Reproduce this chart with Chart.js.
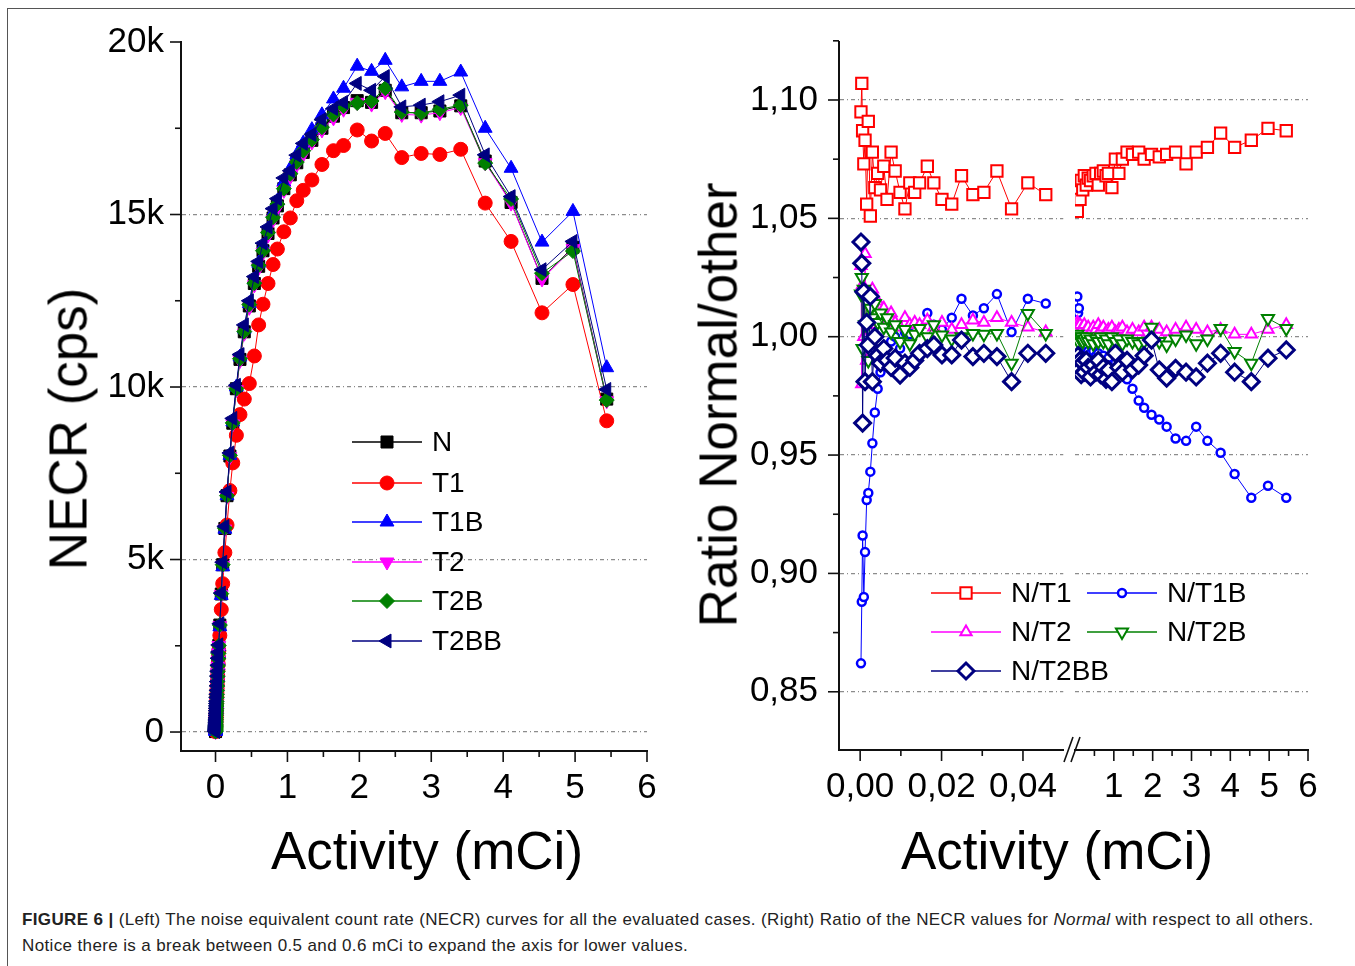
<!DOCTYPE html>
<html>
<head>
<meta charset="utf-8">
<title>Figure 6 - NECR curves</title>
<script src="https://cdn.jsdelivr.net/npm/chart.js@4.4.1/dist/chart.umd.min.js"></script>
<style>
  html, body { margin: 0; padding: 0; background: #fff; }
  body { width: 1355px; height: 966px; position: relative; overflow: hidden;
         font-family: "Liberation Sans", Arial, sans-serif; }
  .frame { position: absolute; left: 7px; top: 8px; width: 1400px; height: 1000px;
           border-left: 1.5px solid #555; border-top: 1.5px solid #555; }
  canvas { position: absolute; top: 0; }
  .axtitle { position: absolute; font-size: 53px; color: #000; white-space: nowrap;
             line-height: 1; transform: translate(-50%, -50%); }
  .axtitle.rot { transform: translate(-50%, -50%) rotate(-90deg); }
  .caption { position: absolute; left: 22px; top: 907px; font-size: 17px; color: #222;
             line-height: 26px; white-space: nowrap; letter-spacing: 0.37px; }
</style>
</head>
<body>
<div class="frame"></div>

<canvas id="necrChart" width="680" height="890" style="left:0px"></canvas>
<canvas id="ratioLow" width="395" height="890" style="left:680px"></canvas>
<canvas id="ratioHigh" width="455" height="890" style="left:900px"></canvas>

<div class="axtitle rot" style="left:68px; top:429px;">NECR (cps)</div>
<div class="axtitle" style="left:427px; top:850px;">Activity (mCi)</div>
<div class="axtitle rot" style="left:718px; top:405px;">Ratio Normal/other</div>
<div class="axtitle" style="left:1057px; top:850px;">Activity (mCi)</div>

<div class="caption"><b>FIGURE 6 |</b> (Left) The noise equivalent count rate (NECR) curves for all the evaluated cases. (Right) Ratio of the NECR values for <i>Normal</i> with respect to all others.<br>Notice there is a break between 0.5 and 0.6 mCi to expand the axis for lower values.</div>

<script>
//////// DATA ////////

// activity (mCi): low range shown left of the axis break, high range right of it
var activityLow = [0.0002, 0.0004, 0.0006, 0.0009, 0.0012, 0.0016, 0.0020, 0.0025, 0.0030, 0.0036,
                   0.0043, 0.0050, 0.0058, 0.0066, 0.0076, 0.0086, 0.0098, 0.0110, 0.0122, 0.0134,
                   0.0146, 0.0165, 0.0181, 0.0201, 0.0225, 0.0249, 0.0277, 0.0304, 0.0336, 0.0372,
                   0.0412, 0.0456];
var activityHigh = [0.06, 0.08, 0.10, 0.13, 0.16, 0.20, 0.24, 0.29, 0.34, 0.40,
                    0.47, 0.54, 0.60, 0.66, 0.73, 0.80, 0.86, 0.95, 1.04, 1.13,
                    1.22, 1.34, 1.48, 1.64, 1.78, 1.97, 2.17, 2.36, 2.59, 2.86,
                    3.12, 3.41, 3.75, 4.11, 4.54, 4.97, 5.44];

// NECR (cps), one value per activity (low then high)
var necrN = [13, 26, 38, 57, 77, 100, 130, 160, 190, 230, 270, 320, 370, 420, 480, 540, 610, 680, 750, 820,
             890, 1000, 1090, 1200, 1330, 1460, 1610, 1750, 1920, 2100, 2300, 2510,
             3100, 4000, 4850, 5900, 6850, 8000, 8950, 9950, 10800, 11600, 12350, 13000, 13500, 13950,
             14450, 14900, 15250, 15750, 16150, 16500, 16800, 17150, 17500, 17850, 18100, 18300, 18250,
             18600, 17950, 17950, 18000, 18150, 16550, 15350, 13150, 14050, 9650];
var necrT1 = [12, 24, 36, 53, 72, 94, 122, 150, 178, 216, 254, 300, 347, 394, 450, 507, 573, 638, 704, 770,
              836, 939, 1023, 1127, 1249, 1371, 1512, 1643, 1803, 1972, 2160, 2357,
              2800, 3550, 4300, 5200, 6000, 7000, 7800, 8600, 9200, 9650, 10100, 10900, 11800, 12400,
              13000, 13550, 14000, 14500, 14900, 15400, 15700, 16000, 16450, 16850, 17000, 17450, 17130,
              17350, 16650, 16770, 16740, 16890, 15330, 14220, 12150, 12970, 9020];
var necrT1B = [15, 29, 41, 64, 85, 107, 139, 170, 199, 238, 276, 325, 374, 422, 481, 540, 613, 679, 749, 817,
               881, 989, 1085, 1196, 1309, 1447, 1591, 1719, 1916, 2067, 2268, 2473,
               3050, 3960, 4790, 5880, 6850, 8020, 8990, 10000, 10870, 11680, 12420, 13100, 13590, 14080,
               14570, 15050, 15390, 15940, 16330, 16730, 17070, 17460, 17890, 18350, 18660, 19300, 19150,
               19470, 18700, 18860, 18860, 19130, 17500, 16340, 14200, 15090, 10560];
var necrT2 = [13, 27, 37, 57, 74, 101, 128, 159, 186, 228, 266, 317, 366, 417, 475, 537, 608, 675, 746, 815,
              886, 993, 1086, 1193, 1326, 1453, 1599, 1740, 1905, 2088, 2291, 2505,
              3080, 3980, 4830, 5880, 6830, 7980, 8930, 9920, 10770, 11560, 12310, 12960, 13460, 13900,
              14400, 14850, 15200, 15700, 16100, 16450, 16750, 17100, 17450, 17800, 18050, 18250, 18200,
              18560, 17900, 17880, 17950, 18100, 16500, 15330, 13130, 14010, 9600];
var necrT2B = [13, 25, 38, 56, 77, 99, 131, 158, 189, 227, 268, 317, 369, 417, 479, 537, 611, 678, 752, 819,
               887, 1000, 1085, 1199, 1331, 1460, 1608, 1748, 1917, 2124, 2278, 2506,
               3100, 4010, 4850, 5910, 6850, 8020, 8960, 9950, 10820, 11610, 12390, 13010, 13530, 13950,
               14480, 14920, 15300, 15750, 16180, 16520, 16850, 17170, 17530, 17900, 18140, 18230, 18290,
               18660, 17970, 17940, 18050, 18170, 16490, 15450, 13300, 13940, 9620];
var necrT2BB = [12, 25, 39, 56, 78, 99, 130, 157, 194, 230, 272, 324, 372, 424, 486, 545, 620, 688, 760, 828,
                896, 1005, 1094, 1209, 1340, 1462, 1624, 1762, 1936, 2141, 2316, 2528,
                3140, 4030, 4920, 5960, 6960, 8090, 9090, 10050, 10940, 11800, 12500, 13200, 13640, 14170,
                14640, 15170, 15460, 16060, 16270, 16720, 17060, 17320, 17750, 18070, 18250, 18800, 18600,
                19000, 18120, 18170, 18270, 18460, 16730, 15520, 13400, 14220, 9930];

// ratio of NECR for Normal over the other cases (low then high)
var ratioT1 = [1.095, 1.107, 1.087, 1.073, 1.083, 1.056, 1.091, 1.051, 1.078, 1.063, 1.069, 1.062, 1.072, 1.058,
               1.078, 1.070, 1.061, 1.054, 1.065, 1.061, 1.065, 1.072, 1.065, 1.058, 1.056, 1.068, 1.060, 1.061,
               1.070, 1.054, 1.065, 1.060,
               1.053, 1.059, 1.062, 1.058, 1.066, 1.062, 1.068, 1.064, 1.067, 1.066, 1.068, 1.069, 1.064,
               1.069, 1.070, 1.068, 1.069, 1.063, 1.075, 1.069, 1.075, 1.078, 1.077, 1.078, 1.075, 1.077,
               1.076, 1.077, 1.078, 1.073, 1.078, 1.080, 1.086, 1.080, 1.083, 1.088, 1.087];
var ratioT1B = [0.862, 0.888, 0.916, 0.890, 0.909, 0.931, 0.934, 0.943, 0.955, 0.968, 0.978, 0.985, 0.990, 0.996,
                0.998, 1.000, 0.995, 1.002, 1.001, 1.004, 1.004, 1.010, 1.005, 1.003, 1.008, 1.016, 1.009, 1.012,
                1.018, 1.002, 1.016, 1.014,
                1.017, 1.010, 1.012, 1.004, 1.000, 0.998, 0.996, 0.995, 0.994, 0.993, 0.994, 0.992, 0.993,
                0.991, 0.992, 0.990, 0.991, 0.988, 0.989, 0.986, 0.984, 0.982, 0.978, 0.973, 0.970, 0.967,
                0.965, 0.962, 0.957, 0.956, 0.962, 0.956, 0.951, 0.942, 0.932, 0.937, 0.932];
var ratioT2 = [1.030, 0.980, 1.022, 1.000, 1.035, 0.990, 1.015, 1.005, 1.020, 1.010, 1.015, 1.008, 1.012, 1.006,
               1.010, 1.006, 1.004, 1.008, 1.005, 1.006, 1.005, 1.007, 1.004, 1.006, 1.003, 1.005, 1.007, 1.006,
               1.008, 1.006, 1.004, 1.002,
               1.006, 1.005, 1.004, 1.005, 1.003, 1.004, 1.005, 1.003, 1.004, 1.002, 1.004, 1.003, 1.005,
               1.003, 1.004, 1.002, 1.003, 1.004, 1.002, 1.003, 1.004, 1.002, 1.003, 1.002, 1.004, 1.004,
               1.003, 1.002, 1.003, 1.004, 1.003, 1.002, 1.003, 1.001, 1.001, 1.003, 1.005];
var ratioT2B = [1.018, 1.025, 0.995, 1.020, 1.005, 1.015, 0.990, 1.012, 1.008, 1.014, 1.006, 1.010, 1.004, 1.008,
                1.002, 1.005, 0.998, 1.003, 0.997, 1.001, 1.0035, 1.000, 1.005, 1.0007, 0.999, 1.000, 1.0014,
                1.001, 1.0014, 0.9888, 1.0098, 1.0014,
                1.001, 0.998, 1.000, 0.999, 1.000, 0.998, 0.999, 1.000, 0.998, 0.999, 0.997, 0.999, 0.998,
                1.000, 0.998, 0.999, 0.997, 1.000, 0.998, 0.999, 0.997, 0.999, 0.998, 0.997, 0.998, 1.004,
                0.998, 0.9965, 0.999, 1.0007, 0.997, 0.999, 1.0035, 0.9937, 0.9888, 1.0077, 1.0035];
var ratioT2BB = [1.040, 1.031, 0.9635, 1.019, 0.981, 1.006, 0.9965, 1.017, 0.981, 1.000, 0.992, 0.9888, 0.995,
                 0.990, 0.987, 0.991, 0.9838, 0.9888, 0.987, 0.990, 0.993, 0.995, 0.9965, 0.9923, 0.9923,
                 0.9986, 0.9916, 0.993, 0.9916, 0.981, 0.993, 0.993,
                 0.988, 0.992, 0.986, 0.990, 0.984, 0.989, 0.985, 0.990, 0.987, 0.983, 0.988, 0.985, 0.990,
                 0.984, 0.987, 0.982, 0.986, 0.981, 0.993, 0.987, 0.985, 0.990, 0.986, 0.988, 0.992, 0.9986,
                 0.986, 0.9825, 0.9866, 0.985, 0.983, 0.9888, 0.993, 0.985, 0.981, 0.9909, 0.9944];

//////// STYLES ////////

var FONT = "'Liberation Sans', Arial, sans-serif";
var tickFont = {family: FONT, size: 35};
var legendFont = "28px " + FONT;
var axisColor = '#111111';
var gridColor = '#8c8c8c';
var gridDash = [4, 3, 1, 3];

var necrDefs = [
  {label: 'N',    values: necrN,    color: '#000000', style: 'rect',     rot: 0,   radius: 8.5, order: 6},
  {label: 'T1',   values: necrT1,   color: '#ff0000', style: 'circle',   rot: 0,   radius: 7,   order: 5},
  {label: 'T1B',  values: necrT1B,  color: '#0000ff', style: 'triangle', rot: 0,   radius: 8,   order: 4},
  {label: 'T2',   values: necrT2,   color: '#ff00ff', style: 'triangle', rot: 180, radius: 8,   order: 3},
  {label: 'T2B',  values: necrT2B,  color: '#008000', style: 'rectRot',  rot: 0,   radius: 7.5, order: 2},
  {label: 'T2BB', values: necrT2BB, color: '#000080', style: 'triangle', rot: 270, radius: 8,   order: 1}
];

var ratioDefs = [
  {label: 'N/T1',   values: ratioT1,   color: '#ff0000', style: 'rect',     rot: 0,   radius: 8,   bw: 2,   order: 5},
  {label: 'N/T1B',  values: ratioT1B,  color: '#0000ff', style: 'circle',   rot: 0,   radius: 4,   bw: 2.5, order: 4},
  {label: 'N/T2',   values: ratioT2,   color: '#ff00ff', style: 'triangle', rot: 0,   radius: 6.5, bw: 2,   order: 3},
  {label: 'N/T2B',  values: ratioT2B,  color: '#008000', style: 'triangle', rot: 180, radius: 7,   bw: 2,   order: 2},
  {label: 'N/T2BB', values: ratioT2BB, color: '#000080', style: 'rectRot',  rot: 0,   radius: 8,   bw: 3,   order: 1}
];

var activity = activityLow.concat(activityHigh);
var nLow = activityLow.length;

function buildSets(defs, hollow, from, to) {
  return defs.map(function (d) {
    var pts = [];
    for (var i = from; i < to; i++) {
      pts.push({x: activity[i], y: d.values[i]});
    }
    return {
      label: d.label,
      data: pts,
      borderColor: d.color,
      backgroundColor: d.color,
      borderWidth: 1,
      pointStyle: d.style,
      pointRotation: d.rot,
      pointRadius: d.radius,
      pointHoverRadius: d.radius,
      pointBorderColor: d.color,
      pointBorderWidth: hollow ? d.bw : 1,
      pointBackgroundColor: hollow ? '#ffffff' : d.color,
      order: d.order,
      tension: 0,
      fill: false
    };
  });
}

//////// PLUGINS ////////

// tick marks: long ones at labelled ticks, short ones in between
var tickMarks = {
  id: 'tickMarks',
  afterDraw: function (chart) {
    var ctx = chart.ctx, a = chart.chartArea;
    ctx.save();
    ctx.strokeStyle = axisColor;
    ctx.lineWidth = 1.6;
    Object.keys(chart.scales).forEach(function (id) {
      var sc = chart.scales[id];
      if (sc.options.ticks.display === false) return;
      sc.ticks.forEach(function (t) {
        var len = t.label ? 11 : 6;
        var p = sc.getPixelForValue(t.value);
        ctx.beginPath();
        if (sc.isHorizontal()) {
          ctx.moveTo(p, a.bottom);
          ctx.lineTo(p, a.bottom + len);
        } else {
          ctx.moveTo(a.left, p);
          ctx.lineTo(a.left - len, p);
        }
        ctx.stroke();
      });
    });
    ctx.restore();
  }
};

// legend drawn at fixed spots, using each dataset's own style
function makeLegend(items, offsetX) {
  return {
    id: 'spotLegend',
    afterDraw: function (chart) {
      var ctx = chart.ctx;
      items.forEach(function (it) {
        var ds = chart.data.datasets[it.ds];
        var x0 = it.x - offsetX, y = it.y;
        ctx.save();
        ctx.strokeStyle = ds.borderColor;
        ctx.lineWidth = 1.5;
        ctx.beginPath();
        ctx.moveTo(x0, y);
        ctx.lineTo(x0 + 70, y);
        ctx.stroke();
        ctx.fillStyle = ds.pointBackgroundColor;
        ctx.strokeStyle = ds.pointBorderColor;
        ctx.lineWidth = ds.pointBorderWidth;
        if (Chart.helpers && Chart.helpers.drawPoint) {
          Chart.helpers.drawPoint(ctx, {
            pointStyle: ds.pointStyle, rotation: ds.pointRotation,
            radius: ds.pointRadius, borderWidth: ds.pointBorderWidth
          }, x0 + 35, y);
        }
        ctx.fillStyle = '#000';
        ctx.font = legendFont;
        ctx.textBaseline = 'middle';
        ctx.textAlign = 'left';
        ctx.fillText(ds.label, x0 + 80, y + 1);
        ctx.restore();
      });
    }
  };
}

// the "//" axis break marks
var breakMarks = {
  id: 'breakMarks',
  afterDraw: function (chart) {
    var ctx = chart.ctx, off = 900;
    ctx.save();
    ctx.strokeStyle = axisColor;
    ctx.lineWidth = 1.6;
    ctx.beginPath();
    ctx.moveTo(1064 - off, 762); ctx.lineTo(1073 - off, 737);
    ctx.moveTo(1071 - off, 762); ctx.lineTo(1080 - off, 737);
    ctx.stroke();
    ctx.restore();
  }
};

//////// SCALES ////////

// ticks placed at from, from+step, ... to (Chart.js would otherwise stretch the step)
function fixedTicks(from, to, step) {
  return function (s) {
    var n = Math.round((to - from) / step), t = [];
    for (var i = 0; i <= n; i++) t.push({value: Math.round((from + i * step) * 1e6) / 1e6});
    s.ticks = t;
  };
}

function xAxis(min, max, ticks, fmt, h) {
  return {
    type: 'linear', min: min, max: max,
    grid: {display: false, drawTicks: false},
    border: {display: true, color: axisColor, width: 2},
    ticks: {autoSkip: false, maxRotation: 0, padding: 16, color: '#000', font: tickFont, callback: fmt},
    afterBuildTicks: fixedTicks(ticks[0], ticks[1], ticks[2]),
    afterFit: function (s) { s.height = h; }
  };
}

function yAxis(min, max, ticks, fmt, isGrid, width, labelPad, showAxis) {
  return {
    type: 'linear', min: min, max: max,
    grid: {display: true, drawTicks: false, lineWidth: 1.2,
           color: function (c) {
             if (!c.tick) return 'rgba(0,0,0,0)';
             return isGrid(c.tick.value) ? gridColor : 'rgba(0,0,0,0)';
           }},
    border: {display: showAxis, color: axisColor, width: 2, dash: gridDash},
    ticks: {display: showAxis, autoSkip: false, padding: labelPad, color: '#000',
            font: tickFont, callback: fmt},
    afterBuildTicks: fixedTicks(ticks[0], ticks[1], ticks[2]),
    afterFit: function (s) { s.width = width; }
  };
}

function fmtMCi(v) {
  return Math.abs(v - Math.round(v)) < 1e-6 ? String(Math.round(v)) : '';
}
function fmtLow(v) {
  var k = Math.round(v * 100);
  return k % 2 === 0 ? (k / 100).toFixed(2).replace('.', ',') : '';
}
function fmtNecr(v) {
  if (v % 5000 !== 0) return '';
  return v === 0 ? '0' : (v / 1000) + 'k';
}
function fmtRatio(v) {
  var k = Math.round(v * 1000);
  return k % 50 === 0 ? (k / 1000).toFixed(2).replace('.', ',') : '';
}
function necrGrid(v) { return v % 5000 === 0 && v < 20000; }
function ratioGrid(v) { var k = Math.round(v * 1000); return k % 50 === 0 && k <= 1100; }

var baseOpts = {
  responsive: false,
  animation: false,
  devicePixelRatio: 1,
  plugins: {legend: {display: false}, tooltip: {enabled: false}}
};

function opts(padding, scales) {
  return Object.assign({}, baseOpts, {layout: {padding: padding}, scales: scales});
}

//////// LEFT: NECR ////////

new Chart(document.getElementById('necrChart').getContext('2d'), {
  type: 'line',
  data: {datasets: buildSets(necrDefs, false, 0, activity.length)},
  options: opts({top: 42, right: 33, left: 0, bottom: 0}, {
    x: xAxis(-0.48, 6, [0, 6, 0.5], fmtMCi, 139),
    y: yAxis(-550, 20000, [0, 20000, 2500], fmtNecr, necrGrid, 181, 17, true)
  }),
  plugins: [tickMarks, makeLegend([
    {ds: 0, x: 352, y: 442}, {ds: 1, x: 352, y: 483}, {ds: 2, x: 352, y: 522},
    {ds: 3, x: 352, y: 562}, {ds: 4, x: 352, y: 601}, {ds: 5, x: 352, y: 641}
  ], 0)]
});

//////// RIGHT: ratio, low part (left of break) ////////

var ratioMin = 0.8254, ratioMax = 1.1245;
var ratioTicks = [0.85, 1.125, 0.025];

new Chart(document.getElementById('ratioLow').getContext('2d'), {
  type: 'line',
  data: {datasets: buildSets(ratioDefs, true, 0, nLow)},
  options: opts({top: 42, right: 5, left: 0, bottom: 0}, {
    x: xAxis(-0.0052, 0.0499, [0, 0.04, 0.01], fmtLow, 140),
    y: yAxis(ratioMin, ratioMax, ratioTicks, fmtRatio, ratioGrid, 159, 21, true)
  }),
  plugins: [tickMarks]
});

//////// RIGHT: ratio, high part (right of break), also carries the legend ////////

new Chart(document.getElementById('ratioHigh').getContext('2d'), {
  type: 'line',
  data: {datasets: buildSets(ratioDefs, true, nLow, activity.length)},
  options: opts({top: 42, right: 47, left: 175, bottom: 0}, {
    x: xAxis(0, 6, [0.5, 6, 0.5], fmtMCi, 140),
    y: yAxis(ratioMin, ratioMax, ratioTicks, fmtRatio, ratioGrid, 0, 0, false)
  }),
  plugins: [tickMarks, breakMarks, makeLegend([
    {ds: 0, x: 931, y: 593}, {ds: 1, x: 1087, y: 593},
    {ds: 2, x: 931, y: 632}, {ds: 3, x: 1087, y: 632},
    {ds: 4, x: 931, y: 671}
  ], 900)]
});
</script>
</body>
</html>
